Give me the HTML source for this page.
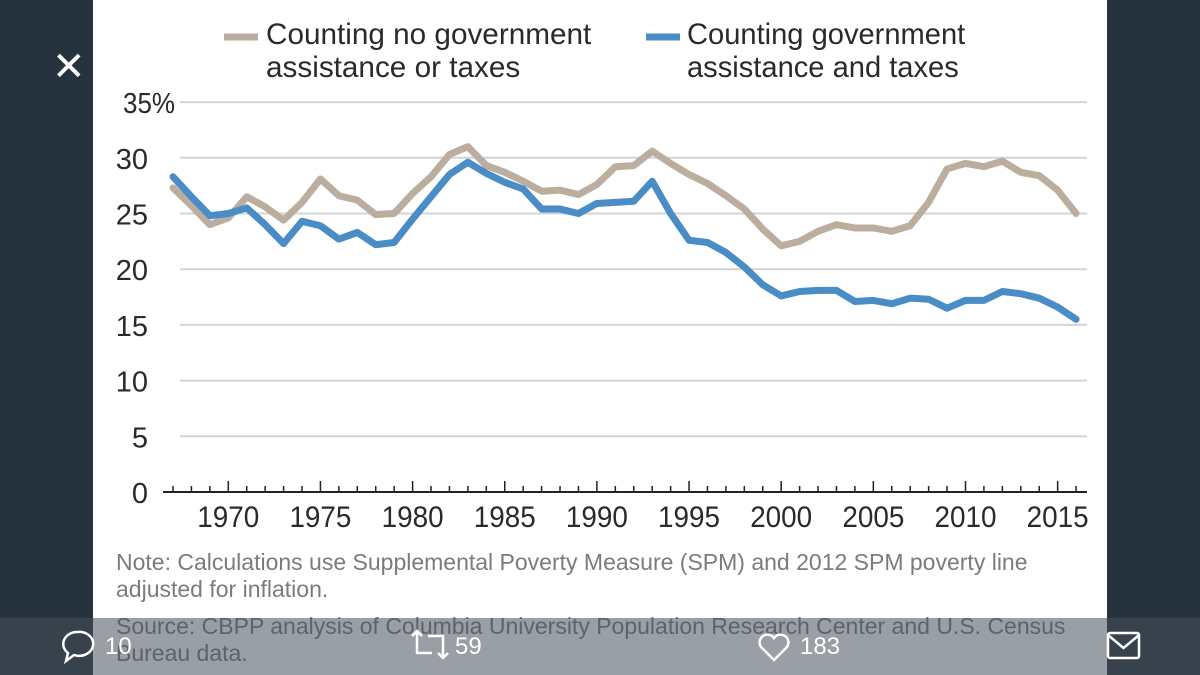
<!DOCTYPE html>
<html><head><meta charset="utf-8"><style>
body{margin:0;width:1200px;height:675px;background:#26323d;overflow:hidden;position:relative;font-family:"Liberation Sans",sans-serif}
.panel{position:absolute;left:93px;top:0;width:1014px;height:675px;background:#fff}
.t{position:absolute;font-family:"Liberation Sans",sans-serif;color:#2a2a2a}
.note{position:absolute;left:116px;font-size:23px;color:#7b7b7b;line-height:27px;white-space:nowrap}
.bar{position:absolute;left:0;top:618px;width:1200px;height:57px;background:rgba(70,80,90,0.55)}
.bt{position:absolute;color:#fff;font-size:24px;top:633px}
</style></head><body>
<div class="panel"></div>
<div class="t" style="left:52px;top:44px;font-size:40px;color:#fff">✕</div>
<svg width="1200" height="675" style="position:absolute;left:0;top:0" id="chart"></svg>
<div class="t" style="left:266px;top:18px;font-size:30px;line-height:33px;transform:scaleX(0.99);transform-origin:left">Counting no government<br>assistance or taxes</div>
<div class="t" style="left:687px;top:18px;font-size:30px;line-height:33px;transform:scaleX(0.97);transform-origin:left">Counting government<br>assistance and taxes</div>
<div class="note" style="top:549px">Note: Calculations use Supplemental Poverty Measure (SPM) and 2012 SPM poverty line<br>adjusted for inflation.</div>
<div class="note" style="top:613px">Source: CBPP analysis of Columbia University Population Research Center and U.S. Census<br>Bureau data.</div>
<div class="bar"></div>
<svg width="1200" height="675" style="position:absolute;left:0;top:0;pointer-events:none">
<g fill="none" stroke="#fff" stroke-width="2.5">
<path d="M77 632 a14 12 0 1 1 -3 23 l-8 6 l2 -8 a14 12 0 0 1 9 -21z"/>
<path d="M412 636 l5 -5 l5 5 M417 631 v22 h15 M448 653 l-5 5 l-5 -5 M443 658 v-22 h-15"/>
<path d="M774 660 l-13 -13 a7 7 0 0 1 13 -9 a7 7 0 0 1 13 9z"/>
<g><rect x="1108" y="633" width="31" height="25" rx="2"/><path d="M1108 635 l15.5 13 l15.5 -13"/></g>
</g></svg>
<div class="bt" style="left:105px">10</div>
<div class="bt" style="left:455px">59</div>
<div class="bt" style="left:800px">183</div>
<script>
const years=[];for(let y=1967;y<=2016;y++)years.push(y);
const govValues=[28.3,26.5,24.8,25.0,25.5,24.0,22.3,24.3,23.9,22.7,23.3,22.2,22.4,24.5,26.5,28.5,29.6,28.6,27.8,27.2,25.4,25.4,25.0,25.9,26.0,26.1,27.9,25.0,22.6,22.4,21.5,20.2,18.6,17.6,18.0,18.1,18.1,17.1,17.2,16.9,17.4,17.3,16.5,17.2,17.2,18.0,17.8,17.4,16.6,15.5];
const noGovValues=[27.3,25.7,24.0,24.6,26.5,25.6,24.4,26.0,28.1,26.6,26.2,24.9,25.0,26.8,28.3,30.3,31.0,29.3,28.7,27.9,27.0,27.1,26.7,27.6,29.2,29.3,30.6,29.5,28.5,27.7,26.6,25.4,23.6,22.1,22.5,23.4,24.0,23.7,23.7,23.4,23.9,26.0,29.0,29.5,29.2,29.7,28.7,28.4,27.1,25.0];
const yTicks=[0,5,10,15,20,25,30,35];
const xTickLabels=[1970,1975,1980,1985,1990,1995,2000,2005,2010,2015];
const NS="http://www.w3.org/2000/svg";
const svg=document.getElementById('chart');
const X=yr=>173+(yr-1967)*18.43;
const Y=v=>492-v*11.14;
function mk(tag,attrs,parent){const e=document.createElementNS(NS,tag);for(const k in attrs)e.setAttribute(k,attrs[k]);(parent||svg).appendChild(e);return e;}
yTicks.forEach(v=>{
  if(v>0){const l=mk('line',{x1:180,x2:1087,y1:Y(v),y2:Y(v),stroke:'#d4d4d4','stroke-width':2});
  
  }
  const t=mk('text',{x:148,y:Y(v)+11,'text-anchor':'end','font-size':29,fill:'#2a2a2a','font-family':'Liberation Sans, sans-serif'});
  t.textContent=v+(v===35?'%':'');
  if(v===35){t.setAttribute('text-anchor','start');t.setAttribute('x',123);t.setAttribute('textLength',52);t.setAttribute('lengthAdjust','spacingAndGlyphs');}
  
  
});
const ax=mk('line',{x1:163,x2:1087,y1:492,y2:492,stroke:'#222','stroke-width':2});


years.forEach(yr=>{const major=yr%5===0;mk('line',{x1:X(yr),x2:X(yr),y1:492,y2:major?481:486,stroke:'#222','stroke-width':1.5});});
xTickLabels.forEach(yr=>{const t=mk('text',{x:X(yr),y:527,'text-anchor':'middle','font-size':30,fill:'#2a2a2a','font-family':'Liberation Sans, sans-serif',textLength:62,lengthAdjust:'spacingAndGlyphs'});t.textContent=yr;

});
function line(vals,color,name){const p=mk('polyline',{points:vals.map((v,i)=>X(years[i])+','+Y(v)).join(' '),fill:'none',stroke:color,'stroke-width':7,'stroke-linejoin':'round','stroke-linecap':'round'});

}
line(noGovValues,'#bcae9e','series-no-assistance');
line(govValues,'#4a8cc6','series-with-assistance');
const s1=mk('line',{x1:224,x2:258,y1:37,y2:37,stroke:'#bcae9e','stroke-width':7});


const s2=mk('line',{x1:646,x2:680,y1:37,y2:37,stroke:'#4a8cc6','stroke-width':7});


</script>
</body></html>
